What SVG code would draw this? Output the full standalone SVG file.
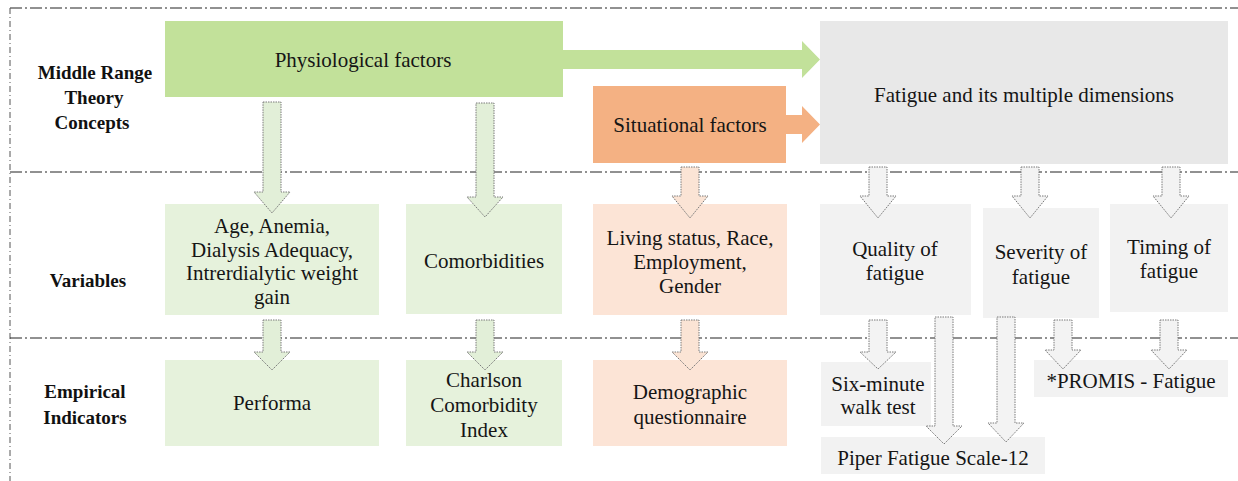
<svg xmlns="http://www.w3.org/2000/svg" width="1238" height="481" viewBox="0 0 1238 481">
  <style>
    .lbl { font-family: 'Liberation Serif', Tinos, 'Times New Roman', 'DejaVu Serif', serif; font-size: 21px; fill: #151515; text-anchor: middle; }
    .row { font-family: 'Liberation Serif', Tinos, 'Times New Roman', 'DejaVu Serif', serif; font-size: 19px; font-weight: bold; fill: #111; text-anchor: middle; }
    .sep { stroke: #222; stroke-width: 1; stroke-dasharray: 12 3 2 3; fill: none; }
    .edge { stroke: #555; stroke-width: 1; stroke-dasharray: 6 3 1 3; fill: none; }
    .g-main { fill: #c2e19a; }
    .o-main { fill: #f4b183; }
    .k-main { fill: #e8e8e8; }
    .g-box { fill: #e6f2dc; }
    .o-box { fill: #fce4d6; }
    .k-box { fill: #f2f2f2; }
    .dn { stroke: #7a7a7a; stroke-width: 1; stroke-dasharray: 1.5 1; }
    .dn.g { fill: #e2efd8; }
    .dn.o { fill: #fbe4d5; }
    .dn.k { fill: #f3f3f3; }
  </style>

  <!-- frame and row separators -->
  <g id="frame">
    <line class="sep" x1="10" y1="8" x2="1238" y2="8"/>
    <line class="edge" x1="10" y1="8" x2="10" y2="481"/>
    <line class="sep" x1="10" y1="172" x2="1238" y2="172"/>
    <line class="sep" x1="10" y1="338" x2="1238" y2="338"/>
  </g>

  <!-- row headings -->
  <g id="row-labels">
    <text class="row" x="95" y="79">Middle Range</text>
    <text class="row" x="94" y="104">Theory</text>
    <text class="row" x="92" y="129">Concepts</text>
    <text class="row" x="88" y="287">Variables</text>
    <text class="row" x="85" y="398">Empirical</text>
    <text class="row" x="85" y="424">Indicators</text>
  </g>

  <!-- concept level -->
  <g id="physiological">
    <rect class="g-main" x="165" y="21" width="398" height="76"/>
    <text class="lbl" x="363" y="67">Physiological factors</text>
  </g>
  <g id="situational">
    <rect class="o-main" x="593" y="86" width="193" height="77"/>
    <text class="lbl" x="690" y="132">Situational factors</text>
  </g>
  <g id="fatigue">
    <rect class="k-main" x="820" y="21" width="408" height="143"/>
    <text class="lbl" x="1024" y="102">Fatigue and its multiple dimensions</text>
  </g>

  <!-- variable level -->
  <g id="var-physio">
    <rect class="g-box" x="165" y="204" width="214" height="111"/>
    <text class="lbl" x="272" y="233">Age, Anemia,</text>
    <text class="lbl" x="272" y="257">Dialysis Adequacy,</text>
    <text class="lbl" x="272" y="280">Intrerdialytic weight</text>
    <text class="lbl" x="272" y="304">gain</text>
  </g>
  <g id="var-comorb">
    <rect class="g-box" x="406" y="204" width="156" height="110"/>
    <text class="lbl" x="484" y="268">Comorbidities</text>
  </g>
  <g id="var-situ">
    <rect class="o-box" x="593" y="204" width="194" height="111"/>
    <text class="lbl" x="690" y="245">Living status, Race,</text>
    <text class="lbl" x="690" y="269">Employment,</text>
    <text class="lbl" x="690" y="293">Gender</text>
  </g>
  <g id="var-quality">
    <rect class="k-box" x="820" y="204" width="151" height="111"/>
    <text class="lbl" x="895" y="256">Quality of</text>
    <text class="lbl" x="895" y="280">fatigue</text>
  </g>
  <g id="var-severity">
    <rect class="k-box" x="983" y="208" width="116" height="110"/>
    <text class="lbl" x="1041" y="259">Severity of</text>
    <text class="lbl" x="1041" y="284">fatigue</text>
  </g>
  <g id="var-timing">
    <rect class="k-box" x="1110" y="204" width="118" height="108"/>
    <text class="lbl" x="1169" y="254">Timing of</text>
    <text class="lbl" x="1169" y="278">fatigue</text>
  </g>

  <!-- indicator level -->
  <g id="ind-performa">
    <rect class="g-box" x="165" y="360" width="214" height="86"/>
    <text class="lbl" x="272" y="410">Performa</text>
  </g>
  <g id="ind-charlson">
    <rect class="g-box" x="406" y="360" width="156" height="86"/>
    <text class="lbl" x="484" y="387">Charlson</text>
    <text class="lbl" x="484" y="412">Comorbidity</text>
    <text class="lbl" x="484" y="437">Index</text>
  </g>
  <g id="ind-demo">
    <rect class="o-box" x="593" y="360" width="194" height="86"/>
    <text class="lbl" x="690" y="399">Demographic</text>
    <text class="lbl" x="690" y="424">questionnaire</text>
  </g>
  <g id="ind-walk">
    <rect class="k-box" x="821" y="362" width="110" height="64"/>
    <text class="lbl" x="878" y="391">Six-minute</text>
    <text class="lbl" x="878" y="414">walk test</text>
  </g>
  <g id="ind-piper">
    <rect class="k-box" x="821" y="437" width="224" height="37"/>
    <text class="lbl" x="933" y="465">Piper Fatigue Scale-12</text>
  </g>
  <g id="ind-promis">
    <rect class="k-box" x="1034" y="360" width="194" height="37"/>
    <text class="lbl" x="1131" y="388">*PROMIS - Fatigue</text>
  </g>

  <!-- connectors -->
  <g id="connectors">
    <!-- concept to outcome -->
    <polygon class="g-main" points="563,50 802,50 802,41 820,59.5 802,78 802,69 563,69"/>
    <polygon class="o-main" points="786,115 802,115 802,106 820,124.5 802,143 802,134 786,134"/>

    <!-- concept to variable -->
    <polygon class="dn g" points="263,102 281,102 281,192 290,192 272,213 254,192 263,192"/>
    <polygon class="dn g" points="476,103 494,103 494,197 503,197 485,217 467,197 476,197"/>
    <polygon class="dn o" points="681,167 699,167 699,196 708,196 690,218 672,196 681,196"/>
    <polygon class="dn k" points="869,167 887,167 887,196 896,196 878,218 860,196 869,196"/>
    <polygon class="dn k" points="1021,167 1039,167 1039,196 1048,196 1030,218 1012,196 1021,196"/>
    <polygon class="dn k" points="1162,167 1180,167 1180,196 1189,196 1171,218 1153,196 1162,196"/>

    <!-- variable to indicator -->
    <polygon class="dn g" points="263,320 281,320 281,352 290,352 272,370 254,352 263,352"/>
    <polygon class="dn g" points="476,320 494,320 494,352 503,352 485,370 467,352 476,352"/>
    <polygon class="dn o" points="681,320 699,320 699,352 708,352 690,370 672,352 681,352"/>
    <polygon class="dn k" points="869,320 887,320 887,352 896,352 878,369 860,352 869,352"/>
    <polygon class="dn k" points="935,317 953,317 953,426 962,426 944,444 926,426 935,426"/>
    <polygon class="dn k" points="997,317 1015,317 1015,423 1024,423 1006,442 988,423 997,423"/>
    <polygon class="dn k" points="1054,320 1072,320 1072,350 1081,350 1063,369 1045,350 1054,350"/>
    <polygon class="dn k" points="1160,320 1178,320 1178,350 1187,350 1169,369 1151,350 1160,350"/>
  </g>
</svg>
